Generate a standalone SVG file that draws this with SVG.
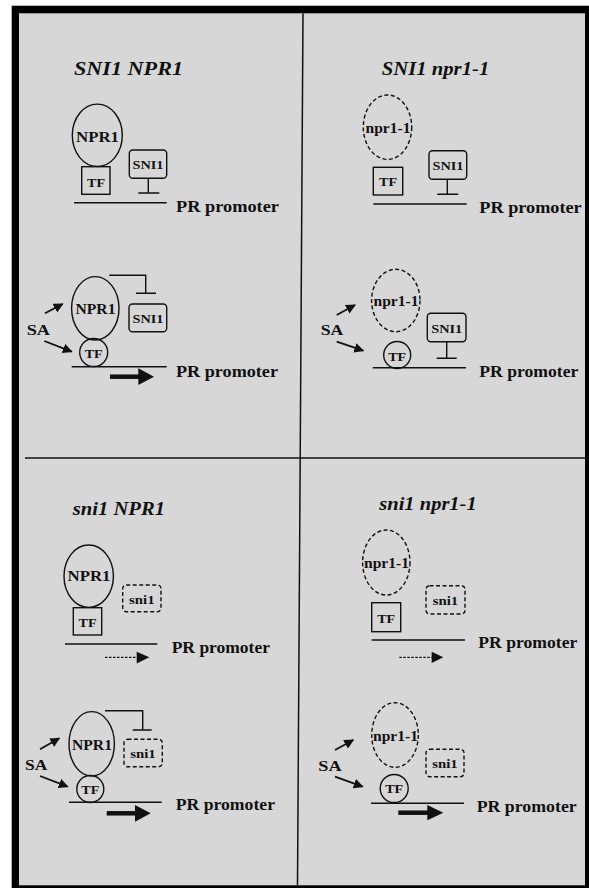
<svg xmlns="http://www.w3.org/2000/svg" width="589" height="888" viewBox="0 0 589 888">
<defs>
<style>
.t{font-family:"Liberation Serif","Times New Roman",serif;font-weight:bold;fill:#111}
.ti{font-family:"Liberation Serif","Times New Roman",serif;font-weight:bold;font-style:italic;fill:#111;font-size:18px}
.s{fill:none;stroke:#111;stroke-width:1.4}
.d{fill:none;stroke:#111;stroke-width:1.4;stroke-dasharray:4 2.5}
.pl{stroke:#111;stroke-width:1.6}
.big{stroke:#111;stroke-width:4.5}
.sa{stroke:#111;stroke-width:1.8;marker-end:url(#ah)}
</style>
<marker id="ah" viewBox="0 0 10 10" refX="9" refY="5" markerWidth="5.5" markerHeight="5.5" orient="auto" markerUnits="strokeWidth">
<path d="M0,0 L10,5 L0,10 z" fill="#111"/>
</marker>
</defs>
<rect x="0" y="0" width="589" height="888" fill="#ffffff"/>
<rect x="11.7" y="5.7" width="577.3" height="882.3" fill="#000"/>
<rect x="19" y="13.3" width="566" height="872" fill="#d7d7d7"/>
<g id="dividers">
<line x1="303" y1="13.3" x2="297.5" y2="885" stroke="#111" stroke-width="1.5"/>
<line x1="25" y1="458" x2="585" y2="458" stroke="#111" stroke-width="1.5"/>
</g>

<g id="titles">
<text class="ti" x="74" y="75" textLength="109" lengthAdjust="spacingAndGlyphs">SNI1 NPR1</text>
<text class="ti" x="381.7" y="75" textLength="107.6" lengthAdjust="spacingAndGlyphs">SNI1 npr1-1</text>
<text class="ti" x="72.7" y="515" textLength="92.3" lengthAdjust="spacingAndGlyphs">sni1 NPR1</text>
<text class="ti" x="379.3" y="510" textLength="97.4" lengthAdjust="spacingAndGlyphs">sni1 npr1-1</text>
</g>

<g id="q1a-npr1"><ellipse class="s" cx="97.3" cy="135.3" rx="25" ry="31.2"/><text class="t" font-size="14" x="97.5" y="141.5" text-anchor="middle" textLength="43" lengthAdjust="spacingAndGlyphs">NPR1</text></g>
<g id="q1a-tf"><rect class="s" x="81.7" y="166.7" width="28.3" height="27.6"/><text class="t" font-size="13" x="96" y="186.5" text-anchor="middle" textLength="18" lengthAdjust="spacingAndGlyphs">TF</text></g>
<g id="q1a-sni1"><rect class="s" x="129.3" y="150" width="37.4" height="28.3" rx="3.5"/><text class="t" font-size="13" x="148" y="169" text-anchor="middle" textLength="31" lengthAdjust="spacingAndGlyphs">SNI1</text></g>
<g id="q1a-promoter"><line class="pl" x1="74" y1="202.7" x2="166.7" y2="202.7"/><text class="t" font-size="17" x="176" y="211.7" textLength="103" lengthAdjust="spacingAndGlyphs">PR promoter</text></g>

<g id="q1b-npr1"><ellipse class="s" cx="95.3" cy="308.3" rx="23.7" ry="31.7"/><text class="t" font-size="14" x="95.5" y="313.5" text-anchor="middle" textLength="40" lengthAdjust="spacingAndGlyphs">NPR1</text></g>
<g id="q1b-tf"><circle class="s" cx="93.7" cy="352.5" r="14"/><text class="t" font-size="13" x="93.7" y="358" text-anchor="middle" textLength="18" lengthAdjust="spacingAndGlyphs">TF</text></g>
<g id="q1b-sni1"><rect class="s" x="129" y="304" width="37.7" height="27.7" rx="3.5"/><text class="t" font-size="13" x="148" y="323" text-anchor="middle" textLength="31" lengthAdjust="spacingAndGlyphs">SNI1</text></g>
<g id="q1b-sa"><text class="t" font-size="15" x="26.7" y="335" textLength="23.3" lengthAdjust="spacingAndGlyphs">SA</text></g>
<g id="q1b-promoter"><line class="pl" x1="71.7" y1="366.7" x2="166.7" y2="366.7"/><text class="t" font-size="17" x="176" y="376.7" textLength="102" lengthAdjust="spacingAndGlyphs">PR promoter</text></g>

<g id="q2a-npr1"><ellipse class="d" cx="387.5" cy="127.2" rx="24.2" ry="32.2"/><text class="t" font-size="14" x="388" y="132.7" text-anchor="middle" textLength="45" lengthAdjust="spacingAndGlyphs">npr1-1</text></g>
<g id="q2a-tf"><rect class="s" x="373.3" y="167.3" width="29.4" height="27.7"/><text class="t" font-size="13" x="388" y="186" text-anchor="middle" textLength="18" lengthAdjust="spacingAndGlyphs">TF</text></g>
<g id="q2a-sni1"><rect class="s" x="429" y="150.7" width="37.7" height="28.6" rx="3.5"/><text class="t" font-size="13" x="448" y="169.5" text-anchor="middle" textLength="31" lengthAdjust="spacingAndGlyphs">SNI1</text></g>
<g id="q2a-promoter"><line class="pl" x1="373.3" y1="204" x2="466.7" y2="204"/><text class="t" font-size="17" x="479.3" y="213.3" textLength="102.4" lengthAdjust="spacingAndGlyphs">PR promoter</text></g>

<g id="q2b-npr1"><ellipse class="d" cx="395.8" cy="300.5" rx="24.2" ry="31.2"/><text class="t" font-size="14" x="396" y="305.5" text-anchor="middle" textLength="45" lengthAdjust="spacingAndGlyphs">npr1-1</text></g>
<g id="q2b-tf"><circle class="s" cx="397.2" cy="355" r="13.5"/><text class="t" font-size="13" x="397.2" y="360.5" text-anchor="middle" textLength="18" lengthAdjust="spacingAndGlyphs">TF</text></g>
<g id="q2b-sni1"><rect class="s" x="427.3" y="313.3" width="38.7" height="28.4" rx="3.5"/><text class="t" font-size="13" x="446.7" y="332.5" text-anchor="middle" textLength="31" lengthAdjust="spacingAndGlyphs">SNI1</text></g>
<g id="q2b-sa"><text class="t" font-size="15" x="320.7" y="335" textLength="22.6" lengthAdjust="spacingAndGlyphs">SA</text></g>
<g id="q2b-promoter"><line class="pl" x1="372.7" y1="367.7" x2="466" y2="367.7"/><text class="t" font-size="17" x="479.3" y="376.7" textLength="99" lengthAdjust="spacingAndGlyphs">PR promoter</text></g>

<g id="q3a-npr1"><ellipse class="s" cx="88.7" cy="576.2" rx="24.7" ry="31.2"/><text class="t" font-size="14" x="89" y="581" text-anchor="middle" textLength="43" lengthAdjust="spacingAndGlyphs">NPR1</text></g>
<g id="q3a-tf"><rect class="s" x="73.3" y="607.7" width="28.4" height="27.3"/><text class="t" font-size="13" x="87.5" y="627" text-anchor="middle" textLength="18" lengthAdjust="spacingAndGlyphs">TF</text></g>
<g id="q3a-sni1"><rect class="d" x="122.7" y="585" width="38.3" height="26.7" rx="3.5"/><text class="t" font-size="12" x="141.8" y="603.5" text-anchor="middle" textLength="25.5" lengthAdjust="spacingAndGlyphs">sni1</text></g>
<g id="q3a-promoter"><line class="pl" x1="65" y1="644" x2="157.3" y2="644"/><text class="t" font-size="17" x="171.7" y="653.3" textLength="98.3" lengthAdjust="spacingAndGlyphs">PR promoter</text></g>

<g id="q3b-npr1"><ellipse class="s" cx="91.7" cy="743.8" rx="22.7" ry="32.2"/><text class="t" font-size="14" x="92" y="750" text-anchor="middle" textLength="40" lengthAdjust="spacingAndGlyphs">NPR1</text></g>
<g id="q3b-tf"><circle class="s" cx="90.3" cy="789" r="13.5"/><text class="t" font-size="13" x="90.3" y="794" text-anchor="middle" textLength="18" lengthAdjust="spacingAndGlyphs">TF</text></g>
<g id="q3b-sni1"><rect class="d" x="124" y="739.3" width="38.3" height="27.4" rx="3.5"/><text class="t" font-size="12" x="143" y="758" text-anchor="middle" textLength="25.5" lengthAdjust="spacingAndGlyphs">sni1</text></g>
<g id="q3b-sa"><text class="t" font-size="15" x="25" y="770" textLength="22.3" lengthAdjust="spacingAndGlyphs">SA</text></g>
<g id="q3b-promoter"><line class="pl" x1="69" y1="802.3" x2="161.7" y2="802.3"/><text class="t" font-size="17" x="175.7" y="810" textLength="99.3" lengthAdjust="spacingAndGlyphs">PR promoter</text></g>

<g id="q4a-npr1"><ellipse class="d" cx="386.3" cy="562.5" rx="23.7" ry="32.5"/><text class="t" font-size="14" x="386.5" y="567.5" text-anchor="middle" textLength="45" lengthAdjust="spacingAndGlyphs">npr1-1</text></g>
<g id="q4a-tf"><rect class="s" x="371.7" y="602.7" width="29" height="29" stroke-width="1.8"/><text class="t" font-size="13" x="386.2" y="623" text-anchor="middle" textLength="18" lengthAdjust="spacingAndGlyphs">TF</text></g>
<g id="q4a-sni1"><rect class="d" x="426" y="585.7" width="39" height="28.3" rx="3.5"/><text class="t" font-size="12" x="445.5" y="605" text-anchor="middle" textLength="25.5" lengthAdjust="spacingAndGlyphs">sni1</text></g>
<g id="q4a-promoter"><line class="pl" x1="371.7" y1="640" x2="465" y2="640"/><text class="t" font-size="17" x="478.3" y="648.3" textLength="99" lengthAdjust="spacingAndGlyphs">PR promoter</text></g>

<g id="q4b-npr1"><ellipse class="d" cx="395" cy="735" rx="23.3" ry="32.3"/><text class="t" font-size="14" x="395.5" y="740.7" text-anchor="middle" textLength="45" lengthAdjust="spacingAndGlyphs">npr1-1</text></g>
<g id="q4b-tf"><circle class="s" cx="394.2" cy="788.5" r="14"/><text class="t" font-size="13" x="394.2" y="793" text-anchor="middle" textLength="18" lengthAdjust="spacingAndGlyphs">TF</text></g>
<g id="q4b-sni1"><rect class="d" x="426" y="749.3" width="38" height="27.4" rx="3.5"/><text class="t" font-size="12" x="445" y="768" text-anchor="middle" textLength="25.5" lengthAdjust="spacingAndGlyphs">sni1</text></g>
<g id="q4b-sa"><text class="t" font-size="15" x="318.3" y="770.7" textLength="23.4" lengthAdjust="spacingAndGlyphs">SA</text></g>
<g id="q4b-promoter"><line class="pl" x1="371" y1="803.3" x2="464" y2="803.3"/><text class="t" font-size="17" x="476.7" y="811.7" textLength="100" lengthAdjust="spacingAndGlyphs">PR promoter</text></g>

<g id="connectors">
<path class="s" d="M148.3,178.3 V193 M138.3,193 H159.3"/>
<path class="s" d="M447.3,179.3 V194.3 M437.3,194.3 H458.3"/>
<path class="s" d="M446.7,341.7 V358.3 M436.7,358.3 H456.7"/>
<path class="s" d="M109.3,275.3 H145.7 V293.3 M136,293.3 H156"/>
<path class="s" d="M105,710.7 H142.7 V730 M132.7,730 H151.7"/>
<line class="sa" x1="45" y1="313.3" x2="62.7" y2="304"/>
<line class="sa" x1="44.3" y1="341" x2="71.7" y2="351.7"/>
<line class="sa" x1="336.7" y1="315" x2="355" y2="305"/>
<line class="sa" x1="336.7" y1="341.7" x2="363.3" y2="350.7"/>
<line class="sa" x1="40" y1="749.3" x2="59.3" y2="738.3"/>
<line class="sa" x1="40" y1="776" x2="67.7" y2="786.7"/>
<line class="sa" x1="335" y1="750" x2="353.3" y2="740"/>
<line class="sa" x1="335" y1="776.7" x2="362.7" y2="786.7"/>
<line class="big" x1="110" y1="376.7" x2="139" y2="376.7"/><path d="M138.3,368.3 L154,376.7 L138.3,385 z" fill="#111"/>
<line class="big" x1="106.7" y1="813.3" x2="136" y2="813.3"/><path d="M135,805 L150.7,813.3 L135,821.7 z" fill="#111"/>
<line class="big" x1="398.3" y1="812.7" x2="428" y2="812.7"/><path d="M427.3,805 L443.3,812.7 L427.3,820.3 z" fill="#111"/>
<line stroke="#111" stroke-width="1.3" stroke-dasharray="2.5 1.5" x1="105" y1="657.3" x2="137" y2="657.3"/><path d="M136.7,651.7 L149.3,657.3 L136.7,663.5 z" fill="#111"/>
<line stroke="#111" stroke-width="1.3" stroke-dasharray="2.5 1.5" x1="399.3" y1="657.3" x2="432" y2="657.3"/><path d="M431.7,651.7 L443.3,657.3 L431.7,663 z" fill="#111"/>
</g>
</svg>
